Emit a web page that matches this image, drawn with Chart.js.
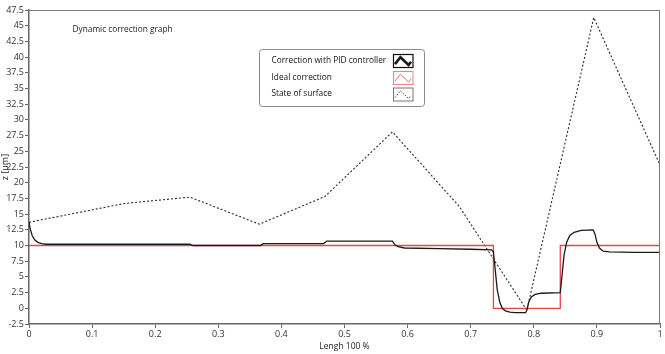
<!DOCTYPE html>
<html>
<head>
<meta charset="utf-8">
<script src="https://cdn.jsdelivr.net/npm/chart.js@4.4.1/dist/chart.umd.min.js"></script>
<style>
html,body{margin:0;padding:0;background:#fff;}
#wrap{width:665px;height:354px;}
</style>
</head>
<body>
<div id="wrap"><canvas id="c" width="665" height="354"></canvas></div>
<script>
// ---- data ----
const chartTitle = "Dynamic correction graph";
const xTitle = "Lengh 100 %";
const yTitle = "z [um]";
const seriesNames = ["Correction with PID controller", "Ideal correction", "State of surface"];

const pidX = [0, 0.002, 0.005, 0.009, 0.014, 0.020, 0.027, 0.255, 0.260, 0.367, 0.371, 0.467, 0.472, 0.576, 0.580, 0.585, 0.595, 0.650, 0.700, 0.733,
              0.736, 0.739, 0.742, 0.746, 0.750, 0.755, 0.762, 0.770, 0.787, 0.789, 0.792, 0.796, 0.802, 0.812, 0.842,
              0.845, 0.848, 0.852, 0.857, 0.864, 0.875, 0.894, 0.897, 0.900, 0.904, 0.910, 0.920, 0.960, 1.000];
const pidY = [13.7, 12.6, 11.6, 10.9, 10.5, 10.3, 10.2, 10.2, 10.0, 10.0, 10.3, 10.3, 10.7, 10.7, 10.1, 9.8, 9.6, 9.5, 9.4, 9.3,
              9.0, 6.0, 3.0, 1.0, 0.0, -0.4, -0.6, -0.7, -0.7, -0.3, 1.0, 1.8, 2.2, 2.4, 2.5,
              5.5, 8.5, 10.5, 11.6, 12.1, 12.4, 12.5, 11.8, 10.5, 9.6, 9.1, 9.0, 8.9, 8.9];

const idealX = [0, 0.736, 0.736, 0.842, 0.842, 1];
const idealY = [10, 10, 0, 0, 10, 10];

const surfX = [0, 0.152, 0.255, 0.365, 0.469, 0.576, 0.682, 0.789, 0.895, 1];
const surfY = [13.7, 16.7, 17.7, 13.4, 17.8, 28.1, 16.2, -0.3, 46.3, 22.8];

const yTicks = [-2.5, 0, 2.5, 5, 7.5, 10, 12.5, 15, 17.5, 20, 22.5, 25, 27.5, 30, 32.5, 35, 37.5, 40, 42.5, 45, 47.5];
const xTicks = [0, 0.1, 0.2, 0.3, 0.4, 0.5, 0.6, 0.7, 0.8, 0.9, 1];

// ---- styling ----
const FONT = "'Open Sans', 'Noto Sans', sans-serif";
const colPid = '#1a1a1a';
const colIdeal = 'rgb(226,72,78)';
const colSurf = '#2a2a2a';

function pts(xs, ys){ return xs.map((x,i)=>({x:x, y:ys[i]})); }

const overlay = {
  id:'overlay',
  afterDraw(chart){
    const ctx = chart.ctx, a = chart.chartArea;
    ctx.save();
    // frame
    ctx.strokeStyle = '#7a7a7a';
    ctx.lineWidth = 1;
    ctx.beginPath();
    ctx.moveTo(a.left, a.top+0.5); ctx.lineTo(a.right-0.5, a.top+0.5); ctx.lineTo(a.right-0.5, a.bottom);
    ctx.stroke();
    // title inside plot
    ctx.fillStyle = '#222';
    ctx.font = "8.3px " + FONT;
    ctx.textBaseline = 'middle';
    ctx.textAlign = 'left';
    ctx.fillText(chartTitle, 72.5, 30);
    // legend box
    const bx = 259.5, by = 49.5, bw = 165, bh = 57, r = 3;
    ctx.strokeStyle = '#8a8a8a';
    ctx.lineWidth = 1;
    ctx.beginPath();
    ctx.moveTo(bx+r, by); ctx.lineTo(bx+bw-r, by); ctx.quadraticCurveTo(bx+bw, by, bx+bw, by+r);
    ctx.lineTo(bx+bw, by+bh-r); ctx.quadraticCurveTo(bx+bw, by+bh, bx+bw-r, by+bh);
    ctx.lineTo(bx+r, by+bh); ctx.quadraticCurveTo(bx, by+bh, bx, by+bh-r);
    ctx.lineTo(bx, by+r); ctx.quadraticCurveTo(bx, by, bx+r, by);
    ctx.fillStyle = '#fff'; ctx.fill(); ctx.stroke();
    const rows = [60.5, 77.5, 94];
    const iconStyles = [
      {border:'#111', bw:1.2, line:colPid, lw:2.6, dash:[]},
      {border:'rgb(236,130,135)', bw:1, line:'rgb(236,110,115)', lw:1, dash:[]},
      {border:'#777', bw:1, line:'#444', lw:1, dash:[1.5,1.5]}
    ];
    for(let i=0;i<3;i++){
      const cy = rows[i];
      ctx.fillStyle = '#111';
      ctx.font = "8.3px " + FONT;
      ctx.textAlign = 'left';
      ctx.textBaseline = 'middle';
      ctx.fillText(seriesNames[i], 271.5, cy);
      const ix = 393, iy = cy-6.5, iw = 19.5, ih = 13;
      const s = iconStyles[i];
      ctx.setLineDash([]);
      ctx.strokeStyle = s.border; ctx.lineWidth = s.bw;
      ctx.strokeRect(ix+0.5, iy+0.5, iw, ih);
      ctx.strokeStyle = s.line; ctx.lineWidth = s.lw; ctx.setLineDash(s.dash);
      ctx.beginPath();
      ctx.moveTo(ix+2, iy+ih*0.78);
      ctx.lineTo(ix+iw*0.38, iy+ih*0.25);
      ctx.lineTo(ix+iw*0.8, iy+ih*0.85);
      ctx.lineTo(ix+iw-1.5, iy+ih*0.6);
      ctx.stroke();
      ctx.setLineDash([]);
    }
    ctx.restore();
  }
};

new Chart(document.getElementById('c'), {
  type:'scatter',
  data:{
    datasets:[
      {label:seriesNames[2], data:pts(surfX, surfY), showLine:true, borderColor:colSurf, borderWidth:1.1, borderDash:[2,2], pointRadius:0, tension:0, order:3},
      {label:seriesNames[1], data:pts(idealX, idealY), showLine:true, borderColor:colIdeal, borderWidth:1.3, pointRadius:0, tension:0, order:2},
      {label:seriesNames[0], data:pts(pidX, pidY), showLine:true, borderColor:colPid, borderWidth:1.3, pointRadius:0, tension:0, order:1}
    ]
  },
  options:{
    responsive:false,
    animation:false,
    events:[],
    layout:{padding:{top:10, right:5, left:0, bottom:0}},
    plugins:{legend:{display:false}, tooltip:{enabled:false}, title:{display:false}},
    scales:{
      x:{
        type:'linear', min:0, max:1,
        afterBuildTicks(s){ s.ticks = xTicks.map(v=>({value:v})); },
        afterFit(s){ s.height = 30; },
        ticks:{color:'#333', font:{family:FONT, size:9}, padding:1, maxRotation:0, autoSkip:false,
               callback:(v)=>String(+(+v).toFixed(1))},
        grid:{display:true, drawOnChartArea:false, drawTicks:true, tickLength:4, color:'#666', lineWidth:1},
        border:{display:true, color:'#666', width:1.5},
        title:{display:true, text:xTitle, color:'#222', font:{family:FONT, size:8.5}, padding:{top:0, bottom:2}}
      },
      y:{
        type:'linear', min:-2.5, max:47.5,
        afterBuildTicks(s){ s.ticks = yTicks.map(v=>({value:v})); },
        afterFit(s){ s.width = 29; },
        ticks:{color:'#333', font:{family:FONT, size:9}, padding:1, autoSkip:false,
               callback:(v)=>String(v)},
        grid:{display:true, drawOnChartArea:false, drawTicks:true, tickLength:4, color:'#666', lineWidth:1},
        border:{display:true, color:'#666', width:1.5},
        title:{display:true, text:yTitle, color:'#222', font:{family:FONT, size:9}, padding:{top:0, bottom:0}}
      }
    }
  },
  plugins:[overlay]
});
</script>
</body>
</html>
